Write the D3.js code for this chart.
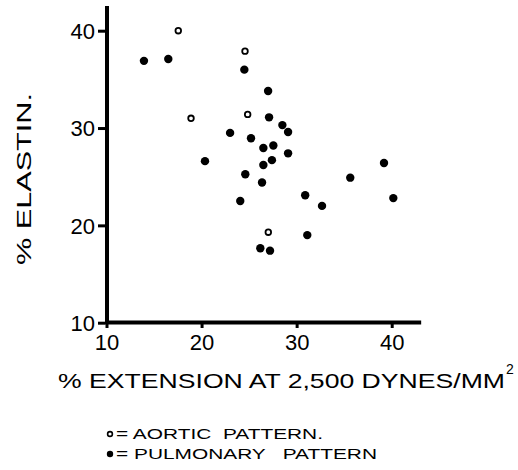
<!DOCTYPE html>
<html><head><meta charset="utf-8">
<script src="https://cdn.jsdelivr.net/npm/d3@7"></script>
<style>body{margin:0;background:#fff}svg{display:block}text{font-family:"Liberation Sans",Arial,sans-serif;fill:#000;white-space:pre}</style>
</head><body>
<script>
const xTicks = [10, 20, 30, 40];
const yTicks = [10, 20, 30, 40];
const aorticX = [17.55, 24.57, 18.89, 24.85, 27.02];
const aorticY = [40.0, 37.9, 31.0, 31.4, 19.3];
const pulmX = [13.94, 16.5, 24.5, 27.0, 27.1, 28.5, 29.1, 23.0, 25.2, 26.5, 27.55, 29.1, 20.36, 27.4, 26.5, 24.6, 26.36, 24.07, 30.9, 32.67, 35.64, 39.19, 40.17, 31.12, 26.18, 27.2];
const pulmY = [36.9, 37.1, 36.0, 33.8, 31.1, 30.3, 29.6, 29.5, 28.95, 27.95, 28.2, 27.4, 26.6, 26.7, 26.2, 25.25, 24.4, 22.5, 23.1, 22.0, 24.9, 26.4, 22.8, 19.0, 17.65, 17.4];
const xTitle = "% EXTENSION AT 2,500 DYNES/MM";
const yTitle = "% ELASTIN.";
const legendLabels = ["= AORTIC  PATTERN.", "= PULMONARY   PATTERN"];

const W = 518, H = 470;
const svg = d3.select("body").append("svg").attr("width", W).attr("height", H);
const x = d3.scaleLinear().domain([10, 40]).range([106.5, 391.7]);
const y = d3.scaleLinear().domain([10, 40]).range([322.7, 30.7]);

// axes lines
svg.append("line").attr("x1", 107).attr("x2", 107).attr("y1", 6).attr("y2", 324).attr("stroke", "#000").attr("stroke-width", 4);
svg.append("line").attr("x1", 105).attr("x2", x(43.1)).attr("y1", 322.5).attr("y2", 322.5).attr("stroke", "#000").attr("stroke-width", 4);

// y ticks
const yAxis = d3.axisLeft(y).tickValues(yTicks).tickSize(7).tickPadding(3).tickFormat(d3.format("d"));
const gy = svg.append("g").attr("transform", "translate(105,0)").call(yAxis);
gy.select(".domain").remove();
gy.selectAll(".tick line").attr("stroke", "#000").attr("stroke-width", 3);
gy.selectAll(".tick text").style("font-size", "22px").attr("dy", "0.36em");

// x ticks
const xAxis = d3.axisBottom(x).tickValues(xTicks).tickSize(5).tickPadding(5).tickFormat(d3.format("d"));
const gx = svg.append("g").attr("transform", "translate(0,323)").call(xAxis);
gx.select(".domain").remove();
gx.selectAll(".tick line").attr("stroke", "#000").attr("stroke-width", 3);
gx.selectAll(".tick text").style("font-size", "22px").attr("dy", "0.75em");

// points
svg.append("g").selectAll("circle").data(pulmX.map((v, i) => [v, pulmY[i]])).join("circle")
  .attr("cx", d => x(d[0])).attr("cy", d => y(d[1])).attr("r", 4.2).attr("fill", "#000");
svg.append("g").selectAll("circle").data(aorticX.map((v, i) => [v, aorticY[i]])).join("circle")
  .attr("cx", d => x(d[0])).attr("cy", d => y(d[1])).attr("r", 2.8).attr("fill", "#fff")
  .attr("stroke", "#000").attr("stroke-width", 1.8);

// titles
svg.append("text").attr("x", 58).attr("y", 388).attr("textLength", 447).attr("lengthAdjust", "spacingAndGlyphs")
  .style("font-size", "21px").text(xTitle);
svg.append("text").attr("x", 506).attr("y", 374).style("font-size", "14px").text("2");
svg.append("text").attr("transform", "translate(31,265) rotate(-90)").attr("textLength", 172)
  .attr("lengthAdjust", "spacingAndGlyphs").style("font-size", "21px").text(yTitle);

// legend
svg.append("circle").attr("cx", 110).attr("cy", 434).attr("r", 2.4).attr("fill", "#fff").attr("stroke", "#000").attr("stroke-width", 1.6);
svg.append("circle").attr("cx", 110).attr("cy", 454).attr("r", 3.2).attr("fill", "#000");
svg.append("text").attr("x", 116).attr("y", 439).attr("textLength", 207).attr("lengthAdjust", "spacingAndGlyphs")
  .style("font-size", "15px").text(legendLabels[0]);
svg.append("text").attr("x", 116).attr("y", 459).attr("textLength", 261).attr("lengthAdjust", "spacingAndGlyphs")
  .style("font-size", "15px").text(legendLabels[1]);
</script>
</body></html>
